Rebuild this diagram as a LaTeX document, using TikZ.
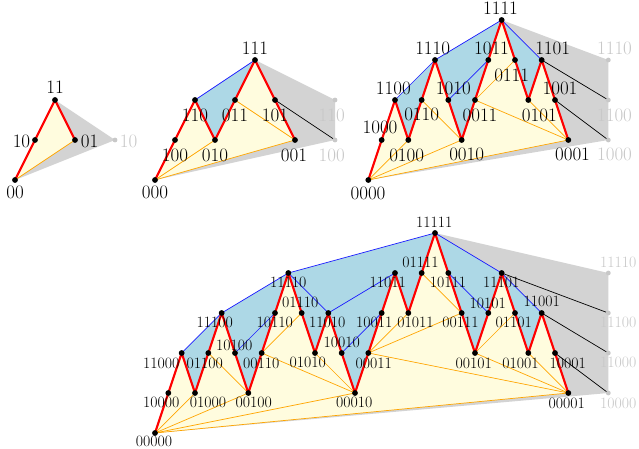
\documentclass[tikz,border=0pt]{standalone}
\usepackage{xcolor}
\definecolor{fillY}{RGB}{255,252,222}
\definecolor{fillB}{RGB}{173,216,230}
\definecolor{fillG}{RGB}{211,211,211}
\definecolor{lineO}{RGB}{255,165,0}
\definecolor{lineR}{RGB}{255,0,0}
\definecolor{lineB}{RGB}{30,30,255}
\definecolor{ptG}{RGB}{200,200,200}
\tikzset{
  redp/.style={draw=lineR, line width=2.2pt, line join=round},
  bluel/.style={draw=lineB, line width=0.7pt},
  orl/.style={draw=lineO, line width=0.7pt},
  blkl/.style={draw=black, line width=0.7pt},
  lab/.style={font=\fontsize{19}{20}\selectfont, inner sep=0pt},
  labs/.style={font=\fontsize{15.8}{17}\selectfont, inner sep=0pt},
  glab/.style={lab, text=ptG},
  glabs/.style={labs, text=ptG},
}
\begin{document}
\begin{tikzpicture}[x=1pt,y=-1pt]
\useasboundingbox (0,0) rectangle (639,449);
% ---------- coordinates ----------
\foreach \s/\i/\l in {00/0/0,10/1/1,11/2/2,01/3/1}
  \coordinate (a\s) at ({15+20*\i},{180-40*\l});
\coordinate (ga10) at (115,140);
\foreach \s/\i/\l in {000/0/0,100/1/1,110/2/2,010/3/1,011/4/2,111/5/3,101/6/2,001/7/1}
  \coordinate (b\s) at ({155+20*\i},{180-40*\l});
\coordinate (gb110) at (335,100);
\coordinate (gb100) at (335,140);
\foreach \s/\i/\l in {0000/0/0,1000/1/1,1100/2/2,0100/3/1,0110/4/2,1110/5/3,1010/6/2,0010/7/1,0011/8/2,1011/9/3,1111/10/4,0111/11/3,0101/12/2,1101/13/3,1001/14/2,0001/15/1}
  \coordinate (c\s) at ({368.33+13.333*\i},{180-40*\l});
\coordinate (gc1110) at (608.3,60);
\coordinate (gc1100) at (608.3,100);
\coordinate (gc1000) at (608.3,140);
\foreach \s/\i/\l in {00000/0/0,10000/1/1,11000/2/2,01000/3/1,01100/4/2,11100/5/3,10100/6/2,00100/7/1,00110/8/2,10110/9/3,11110/10/4,01110/11/3,01010/12/2,11010/13/3,10010/14/2,00010/15/1,00011/16/2,10011/17/3,11011/18/4,01011/19/3,01111/20/4,11111/21/5,10111/22/4,00111/23/3,00101/24/2,10101/25/3,11101/26/4,01101/27/3,01001/28/2,11001/29/3,10001/30/2,00001/31/1}
  \coordinate (d\s) at ({155+13.333*\i},{433-40*\l});
\coordinate (gd11110) at (608.3,273);
\coordinate (gd11100) at (608.3,313);
\coordinate (gd11000) at (608.3,353);
\coordinate (gd10000) at (608.3,393);
% ---------- gray ----------
\fill[fillG] (a00) -- (a11) -- (ga10) -- cycle;
\fill[fillG] (b000) -- (b111) -- (gb110) -- (gb100) -- cycle;
\fill[fillG] (c0000) -- (c1111) -- (gc1110) -- (gc1000) -- cycle;
\fill[fillG] (d00000) -- (d11111) -- (gd11110) -- (gd10000) -- cycle;
% ---------- blue ----------
\fill[fillB] (b110) -- (b111) -- (b011) -- (b010) -- cycle;
\fill[fillB] (c1100) -- (c1110) -- (c1111) -- (c1101) -- (c0101) -- (c0111) -- (c1111) -- (c1011) -- (c0011) -- (c0010) -- (c1010) -- (c1110) -- (c0110) -- (c0100) -- cycle;
\fill[fillB] (d11000) -- (d11100) -- (d11110) -- (d11111) -- (d11101) -- (d11001)
  \foreach \s in {01001,01101,11101,10101,00101,00111,10111,11111,01111,01011,11011,10011,00011,00010,10010,11010,01010,01110,11110,10110,00110,00100,10100,11100,01100,01000} { -- (d\s) } -- cycle;
% ---------- yellow ----------
\fill[fillY] (a00) -- (a10) -- (a11) -- (a01) -- cycle;
\fill[fillY] (b000) \foreach \s in {100,110,010,011,111,101,001} { -- (b\s) } -- cycle;
\fill[fillY] (c0000) \foreach \s in {1000,1100,0100,0110,1110,1010,0010,0011,1011,1111,0111,0101,1101,1001,0001} { -- (c\s) } -- cycle;
\fill[fillY] (d00000) \foreach \s in {10000,11000,01000,01100,11100,10100,00100,00110,10110,11110,01110,01010,11010,10010,00010,00011,10011,11011,01011,01111,11111,10111,00111,00101,10101,11101,01101,01001,11001,10001,00001} { -- (d\s) } -- cycle;
% ---------- orange ----------
\draw[orl] (a00) -- (a01);
\foreach \u/\v in {000/010,000/001,011/001} \draw[orl] (b\u) -- (b\v);
\foreach \u/\v in {0000/0100,0000/0010,0000/0001,0110/0010,0011/0111,0011/0001,0101/0001} \draw[orl] (c\u) -- (c\v);
\foreach \u/\v in {00000/01000,01100/00100,00110/01110,01010/00010,00011/01011,01111/00111,00101/01101,01001/00001,00000/00100,00000/00010,00000/00001,00110/00010,00011/00111,00011/00001,00101/00001} \draw[orl] (d\u) -- (d\v);
% ---------- blue lines ----------
\draw[bluel] (b110) -- (b111);
\foreach \u/\v in {1100/1110,1110/1111,1111/1101,1010/1011} \draw[bluel] (c\u) -- (c\v);
\foreach \u/\v in {11000/11100,11100/11110,11110/11111,11111/11101,11101/11001,10100/10110,11110/11010,11010/11011,10010/10011,10111/10101} \draw[bluel] (d\u) -- (d\v);
% ---------- black lines ----------
\draw[blkl] (b101) -- (gb100);
\draw[blkl] (c1101) -- (gc1100);
\draw[blkl] (c1001) -- (gc1000);
\draw[blkl] (d11101) -- (gd11100);
\draw[blkl] (d11001) -- (gd11000);
\draw[blkl] (d10001) -- (gd10000);
% ---------- red paths ----------
\draw[redp] (a00) -- (a10) -- (a11) -- (a01);
\draw[redp] (b000) \foreach \s in {100,110,010,011,111,101,001} { -- (b\s) };
\draw[redp] (c0000) \foreach \s in {1000,1100,0100,0110,1110,1010,0010,0011,1011,1111,0111,0101,1101,1001,0001} { -- (c\s) };
\draw[redp] (d00000) \foreach \s in {10000,11000,01000,01100,11100,10100,00100,00110,10110,11110,01110,01010,11010,10010,00010,00011,10011,11011,01011,01111,11111,10111,00111,00101,10101,11101,01101,01001,11001,10001,00001} { -- (d\s) };
% ---------- dots ----------
\foreach \s in {00,10,11,01} \fill (a\s) circle (2.9pt);
\foreach \s in {000,100,110,010,011,111,101,001} \fill (b\s) circle (2.9pt);
\foreach \s in {0000,1000,1100,0100,0110,1110,1010,0010,0011,1011,1111,0111,0101,1101,1001,0001} \fill (c\s) circle (2.9pt);
\foreach \s in {00000,10000,11000,01000,01100,11100,10100,00100,00110,10110,11110,01110,01010,11010,10010,00010,00011,10011,11011,01011,01111,11111,10111,00111,00101,10101,11101,01101,01001,11001,10001,00001} \fill (d\s) circle (2.9pt);
\foreach \p in {ga10,gb110,gb100,gc1110,gc1100,gc1000,gd11110,gd11100,gd11000,gd10000} \fill[ptG] (\p) circle (2.4pt);
% ---------- labels ----------
\foreach \s/\x/\y in {00/15/192,10/21.5/141,11/55/87,01/89.7/141}
  \node[lab] (la\s) at (\x,\y) {\s};
\node[glab] (lga10) at (128.5,141) {10};
\foreach \s/\x/\y in {000/155/192,100/175/155,110/195/115,010/215/155,011/235/115,111/255/48.5,101/275/115,001/294/155}
  \node[lab] (lb\s) at (\x,\y) {\s};
\node[glab] (lgb110) at (331.7,115) {110};
\node[glab] (lgb100) at (331.7,155) {100};
\foreach \s/\x/\y in {0000/368/193,1000/380/127.7,1100/393.3/88.3,0100/406.7/155,0110/421.7/114.3,1110/432.7/48.3,1010/453.3/88.3,0010/466.7/154,0011/480/115,1011/491.5/48.3,1111/500.5/8.3,0111/511.7/75,0101/539.3/115,1101/552.7/48.3,1001/560/88.3,0001/572.5/154}
  \node[lab] (lc\s) at (\x,\y) {\s};
\node[glab] (lgc1110) at (614.5,48.3) {1110};
\node[glab] (lgc1100) at (614.5,115) {1100};
\node[glab] (lgc1000) at (614.5,154.3) {1000};
\foreach \s/\x/\y in {00000/154/441.7,10000/161.3/402.7,11000/161.3/363.3,01000/208/402.7,01100/204.7/363.3,11100/214.7/322.7,10100/234.2/345,00100/253.8/402.7,00110/261.2/363.3,10110/274.7/322.7,11110/288.2/282.2,01110/300.3/302.7,01010/307.8/362.7,11010/327.3/322.7,10010/341.7/342.7,00010/354.2/402.7,00011/373.8/363,10011/374.2/322,11011/387.7/282,01011/415.5/322,01111/420.5/262.7,11111/434.3/222.7,10111/448/282.7,00111/460.5/322.7,00101/473.8/363,10101/487.7/303,11101/501.3/282.7,01101/513.8/322.7,01001/520.5/363,11001/541.7/301.7,10001/567.7/363,00001/566.7/403.7}
  \node[labs] (ld\s) at (\x,\y) {\s};
\node[glabs] (lgd11110) at (618.3,262.7) {11110};
\node[glabs] (lgd11100) at (618.3,322) {11100};
\node[glabs] (lgd11000) at (618.3,362.7) {11000};
\node[glabs] (lgd10000) at (618.3,403.7) {10000};
\end{tikzpicture}
\end{document}
